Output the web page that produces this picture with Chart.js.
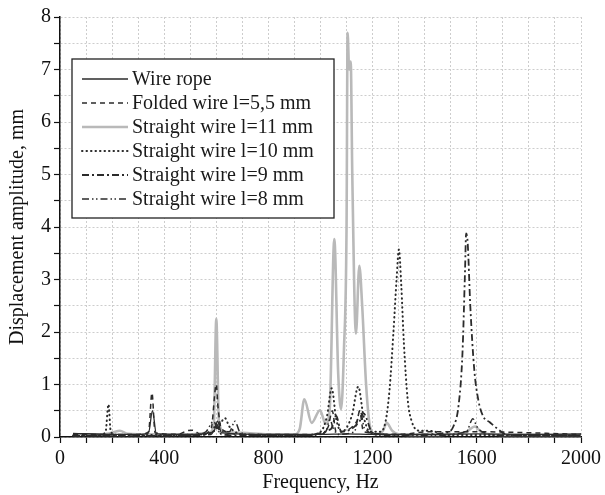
<!DOCTYPE html>
<html>
<head>
<meta charset="utf-8">
<script src="https://cdn.jsdelivr.net/npm/chart.js@4.4.0/dist/chart.umd.min.js"></script>
<style>
  html, body { margin: 0; padding: 0; background: #fff; }
  #wrap { width: 605px; height: 495px; }
</style>
</head>
<body>
<div id="wrap"><canvas id="freqChart" width="605" height="495"></canvas></div>
<script>
// frequency (Hz) / amplitude (mm) pairs
const ropeFreq = [50, 200, 300, 340, 355, 370, 500, 590, 605, 620, 800, 1000, 1100, 1200, 1400, 1600, 1800, 2000];
const ropeAmp  = [0.07, 0.05, 0.05, 0.08, 0.5, 0.06, 0.05, 0.1, 0.3, 0.08, 0.05, 0.05, 0.06, 0.05, 0.05, 0.06, 0.05, 0.06];

const foldedFreq = [50, 300, 340, 353, 365, 450, 490, 510, 540, 580, 600, 606, 620, 700, 1000, 1030, 1045, 1060, 1140, 1150, 1165, 1300, 1420, 1600, 2000];
const foldedAmp  = [0.05, 0.05, 0.1, 0.84, 0.08, 0.05, 0.12, 0.13, 0.05, 0.15, 1.0, 0.6, 0.15, 0.05, 0.05, 0.2, 0.5, 0.1, 0.3, 0.5, 0.1, 0.05, 0.1, 0.1, 0.05];

const wire11Freq = [50, 150, 200, 230, 260, 350, 500, 570, 590, 600, 610, 630, 700, 800, 900, 920, 938, 966, 998, 1020, 1035, 1053, 1068, 1079, 1090, 1100, 1104, 1110, 1116, 1122, 1136, 1149, 1160, 1175, 1190, 1210, 1240, 1254, 1275, 1300, 1400, 1500, 1560, 1593, 1620, 1700, 1800, 2000];
const wire11Amp  = [0.05, 0.05, 0.08, 0.12, 0.06, 0.05, 0.05, 0.08, 0.2, 2.25, 0.3, 0.1, 0.08, 0.05, 0.05, 0.15, 0.72, 0.27, 0.51, 0.25, 0.5, 3.77, 1.2, 0.53, 1.66, 4.0, 7.7, 7.0, 7.15, 5.0, 1.97, 3.26, 2.5, 1.0, 0.2, 0.05, 0.12, 0.27, 0.12, 0.05, 0.04, 0.05, 0.1, 0.2, 0.08, 0.04, 0.04, 0.04];

const wire10Freq = [50, 150, 175, 186, 195, 220, 400, 550, 600, 615, 633, 650, 700, 800, 950, 1000, 1025, 1043, 1060, 1080, 1120, 1145, 1165, 1190, 1230, 1250, 1265, 1280, 1292, 1301, 1310, 1320, 1335, 1350, 1380, 1414, 1440, 1470, 1600, 1800, 2000];
const wire10Amp  = [0.03, 0.03, 0.1, 0.62, 0.1, 0.04, 0.04, 0.05, 0.15, 0.25, 0.36, 0.2, 0.05, 0.04, 0.04, 0.1, 0.4, 0.93, 0.35, 0.1, 0.4, 0.96, 0.4, 0.1, 0.1, 0.3, 0.9, 2.0, 3.0, 3.57, 2.9, 1.8, 0.7, 0.3, 0.12, 0.12, 0.1, 0.04, 0.04, 0.03, 0.03];

const wire9Freq = [50, 300, 580, 600, 620, 700, 900, 1040, 1060, 1080, 1150, 1165, 1200, 1300, 1400, 1480, 1510, 1530, 1545, 1555, 1559, 1565, 1575, 1590, 1606, 1625, 1650, 1676, 1714, 1800, 2000];
const wire9Amp  = [0.02, 0.02, 0.05, 0.25, 0.05, 0.03, 0.03, 0.15, 0.4, 0.1, 0.3, 0.45, 0.08, 0.04, 0.05, 0.08, 0.2, 0.6, 1.6, 3.2, 3.88, 3.7, 2.5, 1.3, 0.7, 0.39, 0.28, 0.17, 0.05, 0.03, 0.03];

const wire8Freq = [50, 300, 500, 560, 590, 610, 650, 672, 690, 750, 950, 1020, 1036, 1050, 1070, 1130, 1152, 1170, 1250, 1400, 1560, 1585, 1600, 1620, 1700, 2000];
const wire8Amp  = [0.02, 0.02, 0.03, 0.1, 0.3, 0.1, 0.1, 0.3, 0.1, 0.03, 0.03, 0.1, 0.33, 0.15, 0.05, 0.1, 0.5, 0.15, 0.03, 0.03, 0.1, 0.35, 0.2, 0.1, 0.03, 0.03];

const seriesNames = ['Wire rope', 'Folded wire l=5,5 mm', 'Straight wire l=11 mm', 'Straight wire l=10 mm', 'Straight wire l=9 mm', 'Straight wire l=8 mm'];

const xTicksMajor = 400;   // labelled every 400 Hz
const yTicksMajor = 1;     // labelled every 1 mm

function pairs(fs, as) {
    return fs.map((f, i) => ({ x: f, y: as[i] }));
}

const FONT = '"Liberation Serif", "Times New Roman", serif';
const DARK = '#2b2b2b';

// legend drawn inside the plot, like the original figure
const boxLegend = {
    id: 'boxLegend',
    afterDatasetsDraw(chart) {
        const ctx = chart.ctx;
        const x0 = 72, y0 = 59, w = 262, h = 159;
        ctx.save();
        ctx.fillStyle = '#fff';
        ctx.fillRect(x0, y0, w, h);
        ctx.strokeStyle = '#222';
        ctx.lineWidth = 1.3;
        ctx.strokeRect(x0, y0, w, h);
        ctx.font = '20px ' + FONT;
        ctx.textBaseline = 'middle';
        ctx.fillStyle = '#1a1a1a';
        chart.data.datasets.forEach((ds, i) => {
            const y = y0 + 20 + i * 24;
            ctx.beginPath();
            ctx.strokeStyle = ds.borderColor;
            ctx.lineWidth = ds.borderWidth;
            ctx.lineCap = ds.borderCapStyle || 'butt';
            ctx.setLineDash(ds.borderDash || []);
            ctx.moveTo(82, y);
            ctx.lineTo(128, y);
            ctx.stroke();
            ctx.setLineDash([]);
            ctx.fillText(ds.label, 132, y + 1);
        });
        ctx.restore();
    }
};

const ctxFreq = document.getElementById('freqChart').getContext('2d');
const freqChart = new Chart(ctxFreq, {
    type: 'line',
    data: {
        datasets: [
            {
                label: seriesNames[0],
                data: pairs(ropeFreq, ropeAmp),
                borderColor: DARK,
                borderWidth: 1.3,
            },
            {
                label: seriesNames[1],
                data: pairs(foldedFreq, foldedAmp),
                borderColor: DARK,
                borderWidth: 1.5,
                borderDash: [5, 4],
            },
            {
                label: seriesNames[2],
                data: pairs(wire11Freq, wire11Amp),
                borderColor: '#b9b9b9',
                borderWidth: 2.6,
                order: 1,
            },
            {
                label: seriesNames[3],
                data: pairs(wire10Freq, wire10Amp),
                borderColor: DARK,
                borderWidth: 2,
                borderDash: [0.5, 4],
                borderCapStyle: 'round',
            },
            {
                label: seriesNames[4],
                data: pairs(wire9Freq, wire9Amp),
                borderColor: DARK,
                borderWidth: 1.8,
                borderDash: [7, 3, 2, 3],
            },
            {
                label: seriesNames[5],
                data: pairs(wire8Freq, wire8Amp),
                borderColor: DARK,
                borderWidth: 1.5,
                borderDash: [7, 3, 1.5, 2.5, 1.5, 3],
            }
        ]
    },
    options: {
        responsive: false,
        animation: false,
        elements: {
            point: { radius: 0 },
            line: { tension: 0, cubicInterpolationMode: 'monotone', fill: false }
        },
        layout: { padding: { left: 0, right: 23, top: 17, bottom: 0 } },
        plugins: {
            legend: { display: false },
            tooltip: { enabled: false }
        },
        scales: {
            x: {
                type: 'linear',
                min: 0,
                max: 2000,
                afterFit: s => { s.height = 58; },
                border: { color: '#111', width: 1.5, dash: [2, 2] },
                grid: { color: '#cdcdcd', lineWidth: 1, tickColor: '#111', tickLength: 6, tickWidth: 1.2, tickBorderDash: [] },
                ticks: {
                    stepSize: 100,
                    autoSkip: false,
                    maxRotation: 0,
                    padding: 4,
                    color: '#111',
                    font: { family: FONT, size: 20 },
                    callback: v => (v % xTicksMajor === 0 ? v : '')
                },
                title: {
                    display: true,
                    text: 'Frequency, Hz',
                    color: '#111',
                    padding: { top: 0, bottom: 0 },
                    font: { family: FONT, size: 20 }
                }
            },
            y: {
                min: 0,
                max: 8,
                afterFit: s => { s.width = 60; },
                border: { color: '#111', width: 1.5, dash: [2, 2] },
                grid: { color: '#cdcdcd', lineWidth: 1, tickColor: '#111', tickLength: 6, tickWidth: 1.2, tickBorderDash: [] },
                ticks: {
                    stepSize: 0.5,
                    autoSkip: false,
                    padding: 3,
                    color: '#111',
                    font: { family: FONT, size: 20 },
                    callback: v => (Number.isInteger(v / yTicksMajor) ? v : '')
                },
                title: {
                    display: true,
                    text: 'Displacement amplitude, mm',
                    color: '#111',
                    padding: { top: 6, bottom: 0 },
                    font: { family: FONT, size: 20 }
                }
            }
        }
    },
    plugins: [boxLegend]
});
</script>
</body>
</html>
